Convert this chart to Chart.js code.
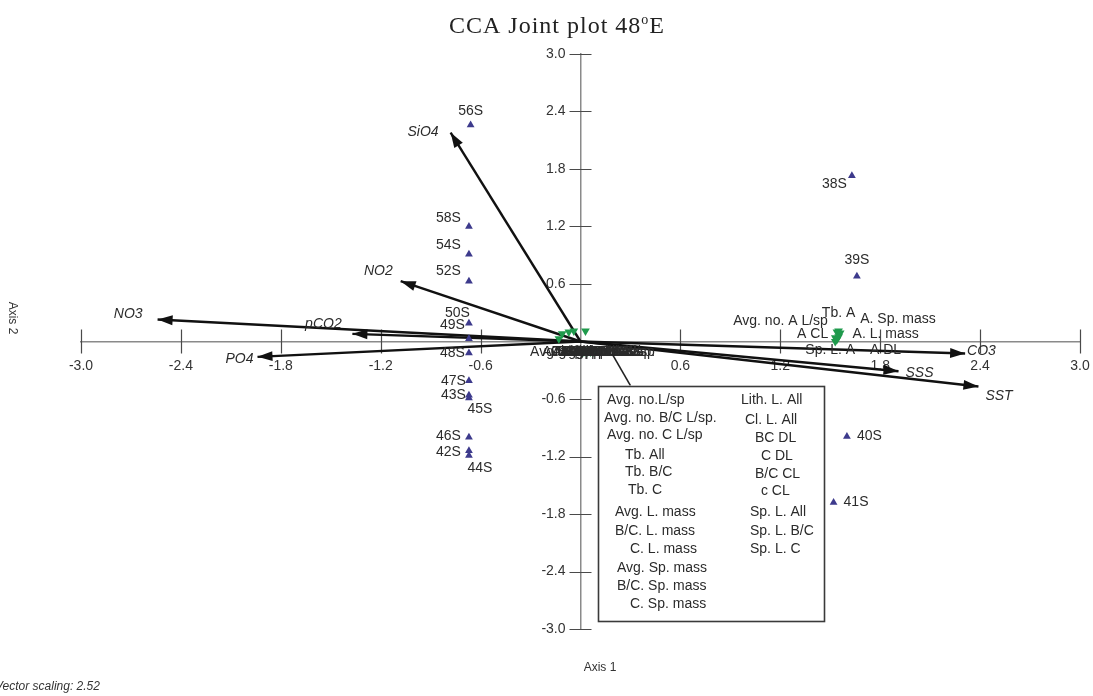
<!DOCTYPE html>
<html>
<head>
<meta charset="utf-8">
<title>CCA Joint plot 48°E</title>
<script src="https://cdn.jsdelivr.net/npm/chart.js@4/dist/chart.umd.min.js"></script>
<style>
  html, body { margin: 0; padding: 0; background: #ffffff; }
  #wrap { width: 1093px; height: 696px; }
</style>
</head>
<body>
<div id="wrap"><canvas id="cca" width="1093" height="696"></canvas></div>
<script>
// ---- Sample (station) scores ----
const siteNames = ['56S','58S','54S','52S','50S','49S','48S','47S','43S','45S','46S','42S','44S','38S','39S','40S','41S'];
const siteAxis1 = [-0.66,-0.67,-0.67,-0.67,-0.67,-0.67,-0.67,-0.67,-0.67,-0.67,-0.67,-0.67,-0.67, 1.63, 1.66, 1.60, 1.52];
const siteAxis2 = [ 2.26, 1.20, 0.91, 0.63, 0.19, 0.03,-0.12,-0.41,-0.56,-0.59,-1.00,-1.14,-1.19, 1.73, 0.68,-0.99,-1.68];

// ---- Species / response scores clustered near the origin ----
const centralNames = ['Avg. no.L/sp','Avg. no. B/C L/sp.','Avg. no. C L/sp','Tb. All','Tb. B/C','Tb. C',
  'Avg. L. mass','B/C. L. mass','C. L. mass','Avg. Sp. mass','B/C. Sp. mass','C. Sp. mass',
  'Lith. L. All','Cl. L. All','BC DL','C DL','B/C CL','c CL','Sp. L. All','Sp. L. B/C','Sp. L. C'];
const centralAxis1 = [-0.13,0.05,0.10,-0.11,0.02,-0.07,0.06,0.08,-0.04,0.04,0.07,0.03,
  0.09,0.01,0.05,0.00,0.06,0.02,0.08,0.04,0.10];
const centralAxis2 = [0.03,-0.10,-0.09,0.08,-0.11,0.10,-0.10,-0.11,0.11,-0.09,-0.10,0.11,
  -0.10,-0.11,-0.09,-0.10,-0.11,-0.09,-0.10,-0.11,-0.09];

// ---- Species / response scores of the A group ----
const aNames = ['Avg. no. A L/sp','Tb. A','A. Sp. mass','A CL','A. L. mass','Sp. L. A','A DL'];
const aAxis1 = [1.54, 1.55, 1.56, 1.53, 1.55, 1.53, 1.54];
const aAxis2 = [0.10, 0.11, 0.09, 0.04, 0.05, 0.00, 0.02];

// ---- Environmental variable biplot scores ----
const envNames = ['SiO4','NO2','NO3','pCO2','PO4','CO3','SSS','SST'];
const envAxis1 = [-0.78,-1.08,-2.54,-1.37,-1.94, 2.31, 1.91, 2.39];
const envAxis2 = [ 2.18, 0.63, 0.23, 0.08,-0.16,-0.125,-0.31,-0.47];

// ---- Tick labels ----
const xTickValues = [-3.0,-2.4,-1.8,-1.2,-0.6,0,0.6,1.2,1.8,2.4,3.0];
const yTickValues = [-3.0,-2.4,-1.8,-1.2,-0.6,0,0.6,1.2,1.8,2.4,3.0];

// ---- Label placement (pixel offsets from each mark) ----
const siteLabelPos = [
  {dx:0,dy:-14,a:'center'},{dx:-8,dy:-8,a:'right'},{dx:-8,dy:-9,a:'right'},{dx:-8,dy:-10,a:'right'},
  {dx:1,dy:-10,a:'right'},{dx:-4,dy:-13,a:'right'},{dx:-4,dy:0,a:'right'},{dx:-3,dy:0,a:'right'},
  {dx:-3,dy:0,a:'right'},{dx:11,dy:11,a:'center'},{dx:-8,dy:-1,a:'right'},{dx:-8,dy:1,a:'right'},
  {dx:11,dy:13,a:'center'},{dx:-5,dy:8,a:'right'},{dx:0,dy:-16,a:'center'},{dx:10,dy:0,a:'left'},
  {dx:10,dy:0,a:'left'}
];
const aLabelPos = [
  {dx:-9,dy:-11,a:'right'},{dx:0,dy:-18,a:'center'},{dx:20,dy:-14,a:'left'},{dx:-7,dy:-4,a:'right'},
  {dx:14,dy:-3,a:'left'},{dx:-5,dy:9,a:'center'},{dx:33,dy:11,a:'left'}
];
const envLabelPos = [
  {dx:-12,dy:0,a:'right'},{dx:-8,dy:-10,a:'right'},{dx:-15,dy:-5,a:'right'},{dx:-29,dy:-10,a:'center'},
  {dx:-4,dy:2,a:'right'},{dx:2,dy:-2,a:'left'},{dx:7,dy:2,a:'left'},{dx:7,dy:10,a:'left'}
];

const SITE_COLOR = '#3d3a8c';
const SPECIES_COLOR = '#1f9a4c';
const TEXT_COLOR = '#2b2b2b';
const SANS = '"Liberation Sans", Arial, sans-serif';

// Legend box for the species crowded at the origin (data coordinates)
const boxFrame = { left: 0.105, right: 1.465, top: -0.46, bottom: -2.91 };
const leader = { from: [0.19, -0.13], to: [0.30, -0.46] };

function tickScale(values) {
  return function (scale) { scale.ticks = values.map(v => ({ value: v })); };
}
const fmtTick = v => (v === 0 ? '' : Number(v).toFixed(1));

const vectorDatasets = envNames.map((n, i) => ({
  label: n,
  type: 'line',
  data: [{ x: 0, y: 0 }, { x: envAxis1[i], y: envAxis2[i] }],
  borderColor: '#111111',
  borderWidth: 2.4,
  pointRadius: 0,
  fill: false,
  tension: 0,
  order: 2
}));

const annotations = {
  id: 'ccaAnnotations',
  beforeDatasetsDraw(chart) {
    const ctx = chart.ctx;
    const xs = chart.scales.x, ys = chart.scales.y;
    const x0 = xs.getPixelForValue(0), y0 = ys.getPixelForValue(0);
    ctx.save();
    // tick marks crossing both axes
    ctx.strokeStyle = '#4a4a4a';
    ctx.lineWidth = 1.2;
    ctx.beginPath();
    xTickValues.forEach(v => {
      if (v === 0) return;
      const px = Math.round(xs.getPixelForValue(v)) + 0.5;
      ctx.moveTo(px, y0 - 12); ctx.lineTo(px, y0 + 12);
    });
    yTickValues.forEach(v => {
      if (v === 0) return;
      const py = Math.round(ys.getPixelForValue(v)) + 0.5;
      ctx.moveTo(x0 - 11, py); ctx.lineTo(x0 + 11, py);
    });
    ctx.stroke();
    // tick labels beside the crossing axes
    ctx.fillStyle = '#333333';
    ctx.font = '14px ' + SANS;
    ctx.textBaseline = 'middle';
    ctx.textAlign = 'right';
    yTickValues.forEach(v => {
      const t = fmtTick(v);
      if (t) ctx.fillText(t, x0 - 15, ys.getPixelForValue(v));
    });
    ctx.textAlign = 'center';
    xTickValues.forEach(v => {
      const t = fmtTick(v);
      if (t) ctx.fillText(t, xs.getPixelForValue(v), y0 + 25);
    });
    ctx.restore();
  },
  afterDatasetsDraw(chart) {
    const ctx = chart.ctx;
    const xs = chart.scales.x, ys = chart.scales.y;
    const X = v => xs.getPixelForValue(v), Y = v => ys.getPixelForValue(v);
    ctx.save();

    // arrowheads on the environmental vectors
    ctx.fillStyle = '#111111';
    envNames.forEach((n, i) => {
      const tx = X(envAxis1[i]), ty = Y(envAxis2[i]);
      const ang = Math.atan2(ty - Y(0), tx - X(0));
      const L = 15, W = 5;
      ctx.beginPath();
      ctx.moveTo(tx, ty);
      ctx.lineTo(tx - L * Math.cos(ang) + W * Math.sin(ang), ty - L * Math.sin(ang) - W * Math.cos(ang));
      ctx.lineTo(tx - L * Math.cos(ang) - W * Math.sin(ang), ty - L * Math.sin(ang) + W * Math.cos(ang));
      ctx.closePath();
      ctx.fill();
    });

    ctx.textBaseline = 'middle';
    ctx.fillStyle = TEXT_COLOR;

    // environmental variable names
    ctx.font = 'italic 14px ' + SANS;
    envNames.forEach((n, i) => {
      const p = envLabelPos[i];
      ctx.textAlign = p.a;
      ctx.fillText(n, X(envAxis1[i]) + p.dx, Y(envAxis2[i]) + p.dy);
    });

    ctx.font = '14px ' + SANS;
    // station names
    const siteMeta = chart.getDatasetMeta(envNames.length);
    siteMeta.data.forEach((el, i) => {
      const p = siteLabelPos[i];
      ctx.textAlign = p.a;
      ctx.fillText(siteNames[i], el.x + p.dx, el.y + p.dy);
    });

    // A group names
    const aMeta = chart.getDatasetMeta(envNames.length + 2);
    aMeta.data.forEach((el, i) => {
      const p = aLabelPos[i];
      ctx.textAlign = p.a;
      ctx.fillText(aNames[i], el.x + p.dx, el.y + p.dy);
    });

    // crowded names at the origin
    const cMeta = chart.getDatasetMeta(envNames.length + 1);
    ctx.textAlign = 'center';
    cMeta.data.forEach((el, i) => {
      ctx.fillText(centralNames[i], el.x + 10, Y(0) + 11);
    });

    // leader line and framed list
    ctx.strokeStyle = '#222222';
    ctx.lineWidth = 1.6;
    ctx.beginPath();
    ctx.moveTo(X(leader.from[0]), Y(leader.from[1]));
    ctx.lineTo(X(leader.to[0]), Y(leader.to[1]));
    ctx.stroke();

    const bl = X(boxFrame.left), br = X(boxFrame.right), bt = Y(boxFrame.top), bb = Y(boxFrame.bottom);
    ctx.fillStyle = '#ffffff';
    ctx.fillRect(bl, bt, br - bl, bb - bt);
    ctx.strokeStyle = '#3a3a3a';
    ctx.lineWidth = 1.6;
    ctx.strokeRect(Math.round(bl) + 0.5, Math.round(bt) + 0.5, Math.round(br - bl), Math.round(bb - bt));

    ctx.fillStyle = TEXT_COLOR;
    ctx.textAlign = 'left';
    const leftIndent = [9, 6, 9, 27, 27, 30, 17, 17, 32, 19, 19, 32];
    const leftRows = [15, 33, 50, 70, 87, 105, 127, 146, 164, 183, 201, 219];
    const rightIndent = [143, 147, 157, 163, 157, 163, 152, 152, 152];
    const rightRows = [15, 35, 53, 71, 89, 106, 127, 146, 164];
    centralNames.forEach((n, i) => {
      if (i < 12) ctx.fillText(n, bl + leftIndent[i], bt + leftRows[i]);
      else ctx.fillText(n, bl + rightIndent[i - 12], bt + rightRows[i - 12]);
    });

    ctx.restore();
  },
  afterDraw(chart) {
    const ctx = chart.ctx;
    ctx.save();
    // title
    ctx.fillStyle = '#222222';
    ctx.textBaseline = 'alphabetic';
    ctx.textAlign = 'left';
    ctx.font = '24px "Liberation Serif", "Times New Roman", serif';
    if ('letterSpacing' in ctx) ctx.letterSpacing = '1px';
    const main = 'CCA Joint plot 48';
    const wMain = ctx.measureText(main).width;
    ctx.font = '14px "Liberation Serif", serif';
    const wSup = ctx.measureText('o').width;
    ctx.font = '24px "Liberation Serif", "Times New Roman", serif';
    const wE = ctx.measureText('E').width;
    let tx = 557 - (wMain + wSup + wE) / 2;
    ctx.fillText(main, tx, 33);
    tx += wMain;
    ctx.font = '14px "Liberation Serif", serif';
    ctx.fillText('o', tx, 24);
    tx += wSup;
    ctx.font = '24px "Liberation Serif", "Times New Roman", serif';
    ctx.fillText('E', tx, 33);
    if ('letterSpacing' in ctx) ctx.letterSpacing = '0px';

    // axis titles
    ctx.fillStyle = '#333333';
    ctx.font = '12px ' + SANS;
    ctx.textAlign = 'center';
    ctx.textBaseline = 'middle';
    ctx.fillText('Axis 1', 600, 668);
    ctx.save();
    ctx.translate(12, 318);
    ctx.rotate(Math.PI / 2);
    ctx.fillText('Axis 2', 0, 0);
    ctx.restore();

    ctx.font = 'italic 12px ' + SANS;
    ctx.textAlign = 'left';
    ctx.fillText('Vector scaling: 2.52', -5, 687);
    ctx.restore();
  }
};

new Chart(document.getElementById('cca'), {
  type: 'scatter',
  data: {
    datasets: [
      ...vectorDatasets,
      {
        label: 'Stations',
        data: siteNames.map((n, i) => ({ x: siteAxis1[i], y: siteAxis2[i] })),
        pointStyle: 'triangle',
        pointRadius: 4.5,
        backgroundColor: SITE_COLOR,
        borderColor: SITE_COLOR,
        borderWidth: 0,
        order: 1
      },
      {
        label: 'Species (origin)',
        data: centralNames.map((n, i) => ({ x: centralAxis1[i], y: centralAxis2[i] })),
        pointStyle: 'triangle',
        rotation: 180,
        pointRadius: 5,
        backgroundColor: SPECIES_COLOR,
        borderColor: SPECIES_COLOR,
        borderWidth: 0,
        order: 1
      },
      {
        label: 'Species (A)',
        data: aNames.map((n, i) => ({ x: aAxis1[i], y: aAxis2[i] })),
        pointStyle: 'triangle',
        rotation: 180,
        pointRadius: 5,
        backgroundColor: SPECIES_COLOR,
        borderColor: SPECIES_COLOR,
        borderWidth: 0,
        order: 1
      }
    ]
  },
  options: {
    responsive: false,
    animation: false,
    devicePixelRatio: 1,
    layout: { padding: { left: 81, right: 13, top: 54, bottom: 67 } },
    plugins: { legend: { display: false }, tooltip: { enabled: false }, title: { display: false } },
    scales: {
      x: {
        type: 'linear',
        min: -3, max: 3,
        position: { y: 0 },
        afterBuildTicks: tickScale(xTickValues),
        grid: { display: false, drawTicks: false },
        border: { display: true, color: '#8a8a8a', width: 1.5 },
        ticks: { display: false }
      },
      y: {
        type: 'linear',
        min: -3, max: 3,
        position: { x: 0 },
        afterBuildTicks: tickScale(yTickValues),
        grid: { display: false, drawTicks: false },
        border: { display: true, color: '#8a8a8a', width: 1.5 },
        ticks: { display: false }
      }
    }
  },
  plugins: [annotations]
});
</script>
</body>
</html>
